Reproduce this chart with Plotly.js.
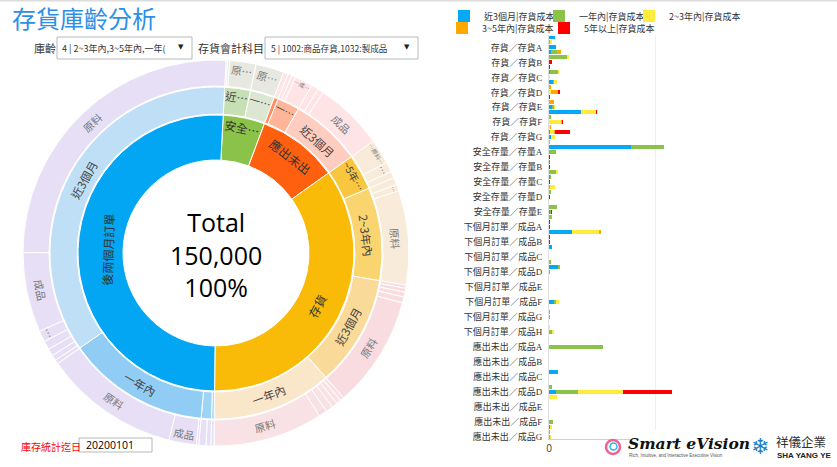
<!DOCTYPE html>
<html><head><meta charset="utf-8">
<script src="https://cdn.plot.ly/plotly-3.0.1.min.js"></script>
<style>html,body{margin:0;padding:0;background:#fff;} #chart{width:837px;height:467px;}</style>
</head><body><div id="chart"></div>
<script>
// ================= DATA =================
// Sunburst ring 1 (inner)
const ring1Labels = ['安全存量','應出未出','存貨','後兩個月訂單'];
const ring1Values = [7300, 14200, 52500, 76000];
const ring1Text   = ['安全…','應出未出','存貨','後兩個月訂單'];

// Ring 2 (age groups)
const ring2Parents = ['安全存量','安全存量','應出未出','應出未出','應出未出','存貨','存貨','存貨','存貨','後兩個月訂單','後兩個月訂單','後兩個月訂單','後兩個月訂單'];
const ring2Labels  = ['近3個月','一年內','2~3年內','一年內','近3個月','3~5年內','2~3年內','近3個月','一年內','5年以上','2~3年內','一年內','近3個月'];
const ring2Values  = [3750,3550, 600,3250,10350, 5200,13550,16250,17500, 400,1500,20800,53300];
const ring2Text    = ['近…','一…','','一…','近3個月','~5年…','2~3年內','近3個月','一年內','','','一年內','近3個月'];

// Ring 3 (material types)
const ring3Parents = [
 '安全存量/近3個月','安全存量/近3個月','安全存量/近3個月',
 '安全存量/一年內',
 '應出未出/2~3年內',
 '應出未出/一年內','應出未出/一年內','應出未出/一年內',
 '應出未出/近3個月','應出未出/近3個月','應出未出/近3個月',
 '存貨/3~5年內','存貨/3~5年內','存貨/3~5年內',
 '存貨/2~3年內','存貨/2~3年內','存貨/2~3年內',
 '存貨/近3個月','存貨/近3個月','存貨/近3個月','存貨/近3個月','存貨/近3個月',
 '存貨/一年內','存貨/一年內','存貨/一年內','存貨/一年內','存貨/一年內','存貨/一年內',
 '後兩個月訂單/5年以上',
 '後兩個月訂單/2~3年內','後兩個月訂單/2~3年內',
 '後兩個月訂單/一年內','後兩個月訂單/一年內','後兩個月訂單/一年內',
 '後兩個月訂單/近3個月','後兩個月訂單/近3個月','後兩個月訂單/近3個月','後兩個月訂單/近3個月','後兩個月訂單/近3個月','後兩個月訂單/近3個月','後兩個月訂單/近3個月'
];
const ring3Labels = [
 '半成品','物料','原料',
 '原料',
 '原料',
 '半成品','物料','成品',
 '半成品','物料','成品',
 '原料','成品','物料',
 '半成品','成品','原料',
 '商品','半成品','物料','成品','原料',
 '商品','在製品','半成品','物料','成品','原料',
 '原料',
 '物料','原料',
 '半成品','成品','原料',
 '商品','在製品','半成品','物料','其他','成品','原料'
];
const ring3Values = [
 200,250,3300,
 3550,
 600,
 500,500,2250,
 900,750,8700,
 3100,1250,850,
 900,800,11850,
 400,500,600,750,14000,
 500,600,700,900,1050,13750,
 400,
 600,900,
 300,3450,17050,
 500,700,900,1100,1400,10000,38700
];
const ring3Text = [
 '','','原…',
 '原…',
 '',
 '','','…成…',
 '','','成品',
 '…原料…','…','',
 '','…','原料',
 '','','','','原料',
 '','','','','……','原料',
 '',
 '','',
 '','成品','原料',
 '','','','','…','成品','原料'
];
const totalText = ['Total','150,000','100%'];

// Bar chart
const barItems = ['存貨／存貨A','存貨／存貨B','存貨／存貨C','存貨／存貨D','存貨／存貨E','存貨／存貨F','存貨／存貨G',
 '安全存量／存量A','安全存量／存量B','安全存量／存量C','安全存量／存量D','安全存量／存量E',
 '下個月訂單／成品A','下個月訂單／成品B','下個月訂單／成品C','下個月訂單／成品D','下個月訂單／成品E','下個月訂單／成品F','下個月訂單／成品G','下個月訂單／成品H',
 '應出未出／成品A','應出未出／成品B','應出未出／成品C','應出未出／成品D','應出未出／成品E','應出未出／成品F','應出未出／成品G'];
const subRows = ['1','2','3'];
const seriesNames = ['近3個月|存貨成本','一年內|存貨成本','2~3年內|存貨成本','3~5年內|存貨成本','5年以上|存貨成本'];
// three sub-rows per item (one triplet per item, top to bottom)
const valNear3M = [570,0,660, 190,0,0, 0,90,0, 380,0,0, 0,0,280, 3020,0,0, 0,90,190,
 0,7730,0, 0,90,0, 0,90,0, 0,0,0, 0,0,90,
 0,0,0, 2170,0,0, 280,0,0, 0,850,0, 0,0,0, 0,0,470, 0,0,0, 0,0,0,
 0,0,0, 0,0,0, 0,850,0, 0,0,690, 0,0,0, 0,0,0, 90,0,0];
const val1Y = [0,90,0, 570,1700,0, 0,750,0, 90,0,0, 0,0,190, 0,190,0, 0,0,0,
 0,3110,660, 0,0,0, 660,90,0, 90,190,0, 0,750,90,
 190,0,0, 0,0,0, 0,0,0, 190,190,50, 0,0,0, 0,0,190, 0,90,90, 0,0,280,
 0,0,5090, 0,0,0, 0,0,0, 0,280,2040, 0,0,0, 0,0,380, 0,90,140];
const val2to3Y = [0,190,0, 0,190,0, 0,90,90, 280,0,190, 0,0,90, 1410,0,1130, 90,380,380,
 0,0,0, 0,0,0, 190,0,0, 470,0,0, 0,0,0,
 0,0,0, 2550,0,0, 0,0,0, 0,0,0, 0,0,0, 0,0,280, 0,0,0, 0,140,190,
 0,0,0, 0,0,0, 0,0,0, 0,0,4270, 750,0,0, 0,0,0, 190,0,50];
const val3to5Y = [0,0,0, 380,0,0, 0,0,0, 0,190,660, 0,470,0, 0,0,90, 90,90,0,
 90,0,0, 0,0,0, 0,0,0, 0,0,0, 0,0,0,
 50,0,0, 190,0,0, 0,0,0, 0,0,0, 0,0,0, 0,0,0, 0,0,50, 0,0,0,
 0,0,0, 0,0,0, 0,0,0, 0,0,0, 0,0,0, 0,0,0, 0,0,0];
const val5Y = [0,0,0, 0,0,280, 70,0,0, 0,0,190, 70,0,0, 140,0,90, 0,1410,0,
 0,0,0, 70,0,70, 0,0,50, 0,0,50, 0,0,90,
 0,50,50, 0,50,50, 0,0,0, 0,0,0, 0,0,0, 0,0,0, 0,0,0, 0,0,0,
 0,0,0, 0,0,0, 0,0,0, 0,0,4620, 0,0,0, 0,0,0, 0,0,0];
const xTickVals = [0, 10000];
const xTickText = ['0', ''];

// ================= LAYOUT HELPERS =================
const W = 837, H = 467;
const px = x => x / W, py = y => 1 - y / H;
const CX = 216, CY = 253;

function dom(R){ return {x:[px(CX-R), px(CX+R)], y:[py(CY+R), py(CY-R)]}; }

const ring1Colors = ['#8BC34A','#FF6010','#F9BB08','#03A6F2'];
const ring2Colors = ['#C6DFB3','#DCE6D3','#FF8F5E','#FFB597','#FFCDBF','#F8C63F','#F9D46F','#F9DA99','#FAE6C8','#A6D8F6','#9DD3F5','#90CCF4','#BFDFF6'];
function ring3Color(p){
  if (p.startsWith('安全')) return '#E7E9E1';
  if (p.startsWith('應出')) return '#FEE4E4';
  if (p==='存貨/3~5年內' || p==='存貨/2~3年內') return '#F9EBD9';
  if (p==='存貨/近3個月') return '#F8DCE0';
  if (p==='存貨/一年內') return '#F9E2E5';
  return '#E7DFF5';
}
const ring3Colors = ring3Parents.map(ring3Color);

const cjk = 'Noto Sans CJK TC, sans-serif';
function pie(ids, values, text, colors, R, Rin, size, color){
  return {type:'pie', labels: ids, values, text, textinfo:'text', sort:false, direction:'clockwise', rotation:3,
    hole: Rin/R, domain: dom(R), marker:{colors, line:{color:'#ffffff', width:1}},
    textposition:'inside', insidetextorientation:'tangential',
    insidetextfont:{family: cjk, size, color}, showlegend:false, hoverinfo:'none'};
}
const ring2Ids = ring2Labels.map((l,i)=> ring2Parents[i] + '/' + l);
const ring3Ids = ring3Labels.map((l,i)=> ring3Parents[i] + '/' + l + '#' + i);

const traces = [
  pie(ring1Labels, ring1Values, ring1Text, ring1Colors, 138, 93, 12, '#333'),
  pie(ring2Ids, ring2Values, ring2Text, ring2Colors, 166, 139, 11.5, '#444'),
  pie(ring3Ids, ring3Values, ring3Text, ring3Colors, 193, 167, 10.5, '#777')
];

// bars
const yCats = [];
barItems.forEach(it => subRows.forEach(s => yCats.push(it + '|' + s)));
const barColors = ['#03A9F4','#8BC34A','#FFEB3B','#FFA800','#FF0000'];
const barVals = [valNear3M, val1Y, val2to3Y, val3to5Y, val5Y];
const legendIds = ['legend','legend2','legend3','legend4','legend5'];
barVals.forEach((v,k) => traces.push({type:'bar', orientation:'h', name: seriesNames[k], x: v, y: yCats,
  marker:{color: barColors[k]}, legend: legendIds[k], hoverinfo:'none'}));

const legendPos = [[484,16],[579,16],[669,16],[482,28],[584,28]];
const layout = {
  width: W, height: H, margin:{l:0,r:0,t:0,b:0, autoexpand:false},
  paper_bgcolor:'#fff', plot_bgcolor:'#fff',
  barmode:'stack', bargap:0.2,
  xaxis:{domain:[px(549), px(817)], range:[0, 10000*268/106], tickmode:'array', tickvals: xTickVals, ticktext: xTickText,
    showgrid:true, gridcolor:'#efefef',
    zeroline:false, showline:true, linecolor:'#d0d0d0', ticks:'', tickfont:{family:'Open Sans, sans-serif', size:10, color:'#333'}, fixedrange:true},
  yaxis:{domain:[py(439), py(35)], type:'category', categoryorder:'array', categoryarray: yCats, autorange:'reversed',
    tickmode:'array', tickvals: yCats.filter((c,i)=> i%3===2), ticktext: barItems, ticklabelstandoff: 4,
    tickfont:{family:'Liberation Serif, '+cjk, size:9, color:'#333'}, showgrid:false, zeroline:false,
    showline:true, linecolor:'#e0e0e0', ticks:'', fixedrange:true},
  annotations: [], shapes: []
};
legendIds.forEach((id,k)=>{
  layout[id] = {x: px(legendPos[k][0]-40), y: py(legendPos[k][1]), xanchor:'left', yanchor:'middle',
    orientation:'h', bgcolor:'rgba(0,0,0,0)', font:{family: cjk, size:9, color:'#333'}, itemclick:false};
});

function ann(text, x, y, opts){
  layout.annotations.push(Object.assign({text, x: px(x), y: py(y), xref:'paper', yref:'paper', showarrow:false,
    xanchor:'left', yanchor:'middle', font:{family: cjk, size:11, color:'#333'}}, opts||{}));
}
function rect(x0,y0,x1,y1,opts){
  layout.shapes.push(Object.assign({type:'rect', xref:'paper', yref:'paper', x0:px(x0), x1:px(x1), y0:py(y1), y1:py(y0),
    line:{color:'#b8b8b8', width:1}, fillcolor:'#fff', layer:'above'}, opts||{}));
}
// top border
layout.shapes.push({type:'line', xref:'paper', yref:'paper', x0:0, x1:1, y0:py(0.5), y1:py(0.5), line:{color:'#dcdcdc', width:2}});
// title
ann('存貨庫齡分析', 10, 18, {font:{family: cjk, size:24, color:'#2B8FE8'}});
// filters
ann('庫齡', 32, 48, {font:{family: cjk, size:11, color:'#333'}});
rect(57, 37, 192, 59);
ann('4 | 2~3年內,3~5年內,一年(', 60, 48, {font:{family: cjk, size:9, color:'#333'}});
ann('▼', 181, 47, {xanchor:'center', font:{family:'DejaVu Sans', size:7, color:'#222'}});
ann('存貨會計科目', 196, 48, {font:{family: cjk, size:11, color:'#333'}});
rect(265, 37, 418, 59);
ann('5 | 1002:商品存貨,1032:製成品', 269, 48, {font:{family: cjk, size:8.6, color:'#333'}});
ann('▼', 407, 47, {xanchor:'center', font:{family:'DejaVu Sans', size:7, color:'#222'}});
// center total (one block, three lines)
ann(totalText.join('<br>'), CX, 254, {xanchor:'center', align:'center', font:{family:'Open Sans, sans-serif', size:25, color:'#000'}});
// date
ann('庫存統計迄日', 19, 446, {font:{family: cjk, size:10, color:'#FF0000'}});
rect(79, 438, 152, 452, {line:{color:'#b8b8b8', width:1}});
ann('20200101', 84, 445, {font:{family:'Open Sans, sans-serif', size:10.5, color:'#000'}});
// logo
rect(630, 430, 837, 462, {line:{width:0}, fillcolor:'#fff'});
layout.shapes.push({type:'circle', xref:'paper', yref:'paper', x0:px(606), x1:px(620), y0:py(454), y1:py(440),
  line:{color:'#F06292', width:2.5}, fillcolor:'#fff', layer:'above'});
layout.shapes.push({type:'circle', xref:'paper', yref:'paper', x0:px(610), x1:px(617), y0:py(450), y1:py(443),
  line:{color:'#29B6F6', width:1.5}, fillcolor:'#fff', layer:'above'});
ann('Smart eVision', 626, 443, {font:{family:'DejaVu Serif', size:15.5, color:'#111', weight:'bold', style:'italic'}});
ann('Rich, Intuitive, and Interactive Executive Vision', 627, 455, {font:{family:'Liberation Sans', size:4.5, color:'#555'}});
ann('❄', 760, 446, {xanchor:'center', font:{family:'DejaVu Sans', size:22, color:'#1B7FC4'}});
ann('祥儀企業', 774, 441, {font:{family: cjk, size:12.5, color:'#333'}});
ann('SHA YANG YE', 775, 455, {font:{family:'Liberation Sans', size:8, color:'#222', weight:'bold'}});

Plotly.newPlot('chart', traces, layout, {displayModeBar:false, staticPlot:true});
</script></body></html>
